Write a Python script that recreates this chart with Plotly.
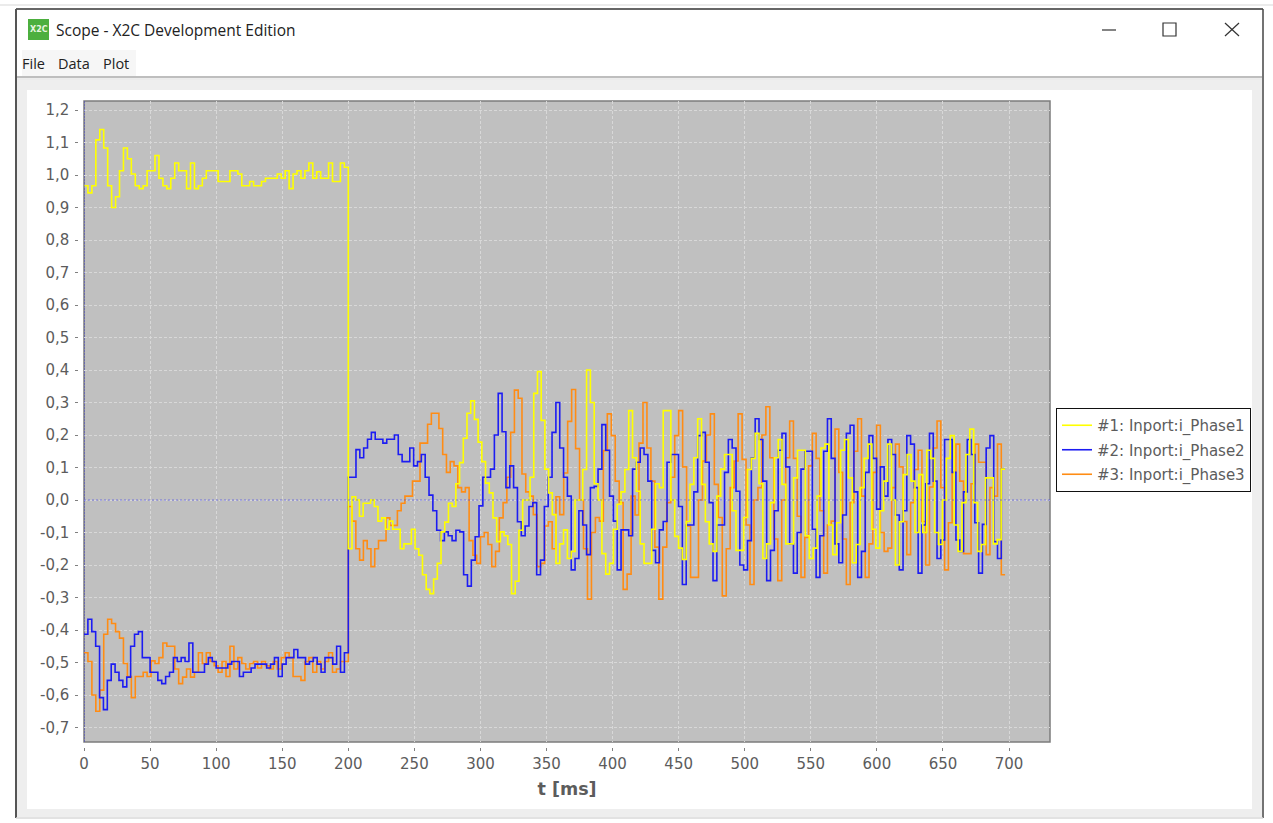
import plotly.graph_objects as go

W, H = 1273, 823

# Time spans (ms) of the four runs of samples
SPAN_EDGES = [0, 200, 360, 534, 697]

PHASE1_A = [.967,.945,.967,1.108,1.14,1.083,.967,.90,.933,1.013,1.083,1.05,1.003,.967,.958,.967,1.013,1.013,1.06,.99,.967,.958,.99,1.037,1.013,1.013,.958,1.037,.958,.967,.99,1.013,1.013,1.013,.98,.98,.98,1.013,1.013,1.003,.967,.967,.98,.967,.967,.98,.99,.99,.99,1.003,.99,1.013,.958,1.003,1.013,.99,1.013,1.037,.99,1.01,.99,.99,1.037,.98,.98,1.037,1.024]
PHASE1_B = [-.15,.01,0,-.05,-.01,-.01,0,-.02,-.065,-.055,-.09,-.065,-.09,-.09,-.15,-.135,-.135,-.09,-.15,-.17,-.23,-.275,-.288,-.243,-.195,-.098,-.068,-.01,-.02,.05,.115,.19,.267,.305,.248,.178,.118,.052,.022,-.055,-.128,-.098,-.11,-.137,-.288,-.25,-.093,0,0,.07,.328,.395,.245,.095,.022,-.045,-.195]
PHASE1_C = [-.135,-.092,-.18,-.158,0,0,.094,.40,.3,.05,0,-.165,-.228,-.195,-.09,-.013,.025,.094,.275,.13,.027,-.135,-.195,-.195,-.09,.05,.038,.275,.275,0,-.112,-.148,-.183,-.066,.048,.13,.25,.048,-.067,-.135,-.158,.012,.095,.14,.14,-.033,-.155,-.155,-.054,.094,.128,.205,.05,-.18,-.135,-.008,.13,.186,.048,-.135]
PHASE1_D = [-.135,.068,.153,.153,-.11,-.18,-.148,.012,.16,.172,-.077,-.168,-.07,.153,.186,.068,-.193,-.137,.038,.128,.172,-.09,-.148,-.033,.058,.172,0,-.2,-.067,.078,.14,.058,-.1,.078,-.1,.153,.128,-.1,-.137,0,.128,.198,-.077,-.158,-.008,.14,.218,-.008,-.158,-.137,.068,.068,-.135,-.122,.095]

PHASE2_A = [-.413,-.367,-.405,-.45,-.608,-.645,-.555,-.505,-.53,-.555,-.575,-.545,-.45,-.413,-.405,-.485,-.485,-.53,-.53,-.555,-.565,-.543,-.53,-.485,-.497,-.485,-.497,-.44,-.53,-.53,-.53,-.505,-.485,-.497,-.517,-.517,-.517,-.505,-.497,-.497,-.543,-.53,-.53,-.517,-.505,-.505,-.505,-.517,-.505,-.485,-.543,-.505,-.485,-.485,-.46,-.485,-.485,-.505,-.497,-.485,-.505,-.53,-.485,-.485,-.505,-.45,-.53,-.47]
PHASE2_B = [.07,.07,.155,.13,.16,.187,.208,.187,.187,.175,.187,.187,.2,.14,.118,.118,.16,.105,.118,.14,.07,.015,-.033,-.093,-.125,-.098,-.11,-.125,-.093,-.098,-.23,-.265,-.185,-.113,-.018,.07,.07,.095,.2,.328,.21,.038,.105,.038,-.067,-.11,-.08,-.02,-.008,-.23,-.185,-.02,.07,.208,.3]
PHASE2_C = [.16,.07,.012,-.215,-.18,-.033,-.077,-.168,.038,.042,.095,.232,.153,.012,-.065,-.215,-.092,-.092,-.11,.095,.116,.16,.14,.058,-.155,-.193,-.092,-.066,.116,.14,.14,-.02,-.26,-.077,-.077,.025,.198,.208,.116,-.008,-.248,-.077,-.077,.085,.186,.16,.027,-.2,-.215,-.125,.13,.25,.186,.058,-.248,-.155,-.033,.153,.205,.102]
PHASE2_D = [-.135,-.225,-.1,.095,.15,.15,-.09,-.238,-.11,.15,.25,.128,-.135,-.193,-.046,.205,.23,.025,-.238,-.158,.085,.198,.128,-.028,.102,.012,.186,.14,-.046,-.215,-.033,.198,.172,.038,-.225,-.077,.05,.205,.058,-.18,-.123,.186,.186,.085,-.123,-.158,.025,.186,.14,-.07,-.225,-.075,.16,.198,-.128,-.18,.095]

PHASE3_A = [-.47,-.497,-.6,-.65,-.585,-.413,-.367,-.38,-.405,-.425,-.503,-.543,-.608,-.543,-.543,-.53,-.543,-.495,-.503,-.485,-.44,-.45,-.45,-.52,-.565,-.545,-.52,-.545,-.53,-.47,-.503,-.47,-.497,-.51,-.53,-.497,-.543,-.45,-.52,-.485,-.503,-.52,-.503,-.497,-.517,-.497,-.51,-.52,-.497,-.52,-.485,-.47,-.485,-.543,-.543,-.555,-.497,-.485,-.53,-.497,-.52,-.497,-.47,-.53,-.52,-.497,-.497]
PHASE3_B = [-.02,-.065,-.15,-.185,-.125,-.15,-.205,-.15,-.125,-.125,-.055,-.078,-.078,-.033,-.01,.012,.012,.058,.058,.175,.175,.233,.267,.267,.22,.14,.085,.118,.105,.038,.025,.038,-.125,-.17,-.195,-.113,-.1,-.137,-.205,-.158,-.055,-.008,.07,.208,.338,.313,.08,.025,.012,-.045,-.205,-.195,-.08,-.067,-.15,.01]
PHASE3_C = [-.045,.083,.242,.34,.158,0,-.15,-.305,-.1,-.054,-.065,.152,.265,.198,.058,-.008,-.275,-.228,.012,-.046,.175,.3,.16,.058,-.145,-.305,-.145,-.008,.07,.198,.275,.102,-.08,-.238,-.238,0,.12,.2,.265,.048,-.054,-.295,-.15,.038,.12,.265,.125,-.077,-.26,0,.038,.2,.287,.13,-.12,-.248,0,.13]
PHASE3_D = [.243,.128,-.05,-.238,-.115,.105,.205,.128,-.033,-.225,-.077,-.065,.218,.085,-.12,-.26,-.008,.15,.25,.012,-.238,-.135,.085,.23,-.1,-.158,-.148,.038,.172,.102,-.066,-.168,-.008,.094,.153,-.066,-.2,.04,.16,.243,.038,-.215,-.07,.085,.172,.058,-.165,-.165,.05,.172,.116,.116,-.168,.038,.012,.172,-.23]

SERIES = [(PHASE1_A, PHASE1_B, PHASE1_C, PHASE1_D), (PHASE2_A, PHASE2_B, PHASE2_C, PHASE2_D), (PHASE3_A, PHASE3_B, PHASE3_C, PHASE3_D)]
SERIES_NAMES = ["#1: Inport:i_Phase1", "#2: Inport:i_Phase2", "#3: Inport:i_Phase3"]
SERIES_COLORS = ["#ffff00", "#1c1cf2", "#ff8c14"]
X_TICKS = list(range(0, 701, 50))
Y_VALS = [-.7,-.6,-.5,-.4,-.3,-.2,-.1,0,.1,.2,.3,.4,.5,.6,.7,.8,.9,1.0,1.1,1.2]
Y_LABELS = ["-0,7","-0,6","-0,5","-0,4","-0,3","-0,2","-0,1","0,0","0,1","0,2","0,3","0,4","0,5","0,6","0,7","0,8","0,9","1,0","1,1","1,2"]

def X(p): return p / W
def Y(p): return 1 - p / H

def rect(x0, y0, x1, y1, fill=None, line=None, lw=1):
    return dict(type="rect", xref="paper", yref="paper", layer="below", x0=X(x0), x1=X(x1), y0=Y(y0), y1=Y(y1),
                fillcolor=fill or "rgba(0,0,0,0)", line=dict(color=line or "rgba(0,0,0,0)", width=lw if line else 0))

def seg(x0, y0, x1, y1, color, lw=1):
    return dict(type="line", xref="paper", yref="paper", layer="below", x0=X(x0), x1=X(x1), y0=Y(y0), y1=Y(y1),
                line=dict(color=color, width=lw))

shapes = [
    seg(0, 5, 1273, 5, "#e4e4e4", 1.5),
    rect(136, 50, 22, 76, "#f6f6f6"),
    rect(17, 80, 1262, 817, "#eeeeee"),
    rect(27, 90, 1252, 809, "#ffffff"),
    seg(17, 77, 1262, 77, "#a8a8a8", 1.5),
    seg(17, 79, 1262, 79, "#d8d8d8", 1),
    seg(16, 9, 1263, 9, "#333333", 1.5),
    seg(16, 9, 16, 818, "#555555", 2),
    seg(1263, 9, 1263, 818, "#444444", 1.5),
    seg(16, 818, 1263, 818, "#d8d8d8", 1.5),
    rect(84, 101, 1050, 742, "#c0c0c0", "#7c7c7c", 1.5),
    rect(28, 19, 49, 40, "#4caf3e"),
    seg(1102, 30, 1116, 30, "#333333", 1.2),
    rect(1163, 23, 1176, 36, None, "#333333", 1.2),
    seg(1225, 23, 1239, 36, "#333333", 1.2),
    seg(1225, 36, 1239, 23, "#333333", 1.2),
    dict(type="line", xref="x", yref="paper", x0=0, x1=0, y0=Y(742), y1=Y(101), layer="above",
         line=dict(color="rgba(40,40,230,.7)", width=1, dash="2px,1px")),
    dict(type="line", xref="paper", yref="y", x0=X(84), x1=X(1050), y0=0, y1=0, layer="above",
         line=dict(color="rgba(60,60,235,.6)", width=1, dash="2px,2px")),
]

def label(text, px, py, size, color="#222222", family="Open Sans", anchor="left", bold=False):
    return dict(text=f"<b>{text}</b>" if bold else text, x=X(px), y=Y(py), xref="paper", yref="paper",
                xanchor=anchor, yanchor="middle", showarrow=False, font=dict(size=size, color=color, family=family))

annotations = [
    label("Scope - X2C Development Edition", 54, 30, 15.5),
    label("File", 20, 63, 14.5), label("Data", 56, 63, 14.5), label("Plot", 101, 63, 14.5),
    label("X2C", 38.5, 29.5, 8, "#e8f5e0", "DejaVu Sans", "center", True),
]

fig = go.Figure()
for parts, name, color, z in zip(SERIES, SERIES_NAMES, SERIES_COLORS, (3, 2, 1)):
    t, v = [], []
    for k, part in enumerate(parts):
        start, end = SPAN_EDGES[k], SPAN_EDGES[k + 1]
        t += [start + i * (end - start) / len(part) for i in range(len(part))]
        v += part
    t.append(SPAN_EDGES[-1])
    v.append(v[-1])
    fig.add_trace(go.Scatter(x=t, y=v, mode="lines", name=name, legendgroup=name, zorder=z,
                             line=dict(color=color, width=1.6, shape="hv")))

fig.update_layout(
    width=W, height=H, autosize=False, margin=dict(l=0, r=0, t=0, b=0, autoexpand=False),
    paper_bgcolor="#ffffff", plot_bgcolor="rgba(0,0,0,0)", shapes=shapes, annotations=annotations,
    font=dict(family="DejaVu Sans", size=15, color="#5c5c5c"),
    legend=dict(x=X(1056), y=Y(408), xanchor="left", yanchor="top", bgcolor="#ffffff", bordercolor="#111111", borderwidth=1,
                tracegroupgap=2, font=dict(size=15, color="#5c5c5c", family="DejaVu Sans")),
    xaxis=dict(domain=[X(84), X(1050)], range=[0, 731], anchor="free", position=Y(747.5),
               tickmode="array", tickvals=X_TICKS, ticks="outside", ticklen=3, tickcolor="#808080", showline=True,
               linecolor="#808080", linewidth=1.5, showgrid=True, griddash="3px,2px", gridcolor="#d8d8d8", gridwidth=1, zeroline=False,
               title=dict(text="<b>t [ms]</b>", standoff=9, font=dict(size=17.5, color="#5c5c5c", family="DejaVu Sans"))),
    yaxis=dict(domain=[Y(742), Y(101)], range=[-.7446, 1.2277], anchor="free", position=X(79),
               tickmode="array", tickvals=Y_VALS, ticktext=Y_LABELS, ticks="outside", ticklen=3, tickcolor="#808080", showline=True,
               ticklabelstandoff=3,
               linecolor="#909090", linewidth=1.5, showgrid=True, griddash="3px,2px", gridcolor="#d8d8d8", gridwidth=1, zeroline=False),
)
fig.write_html("out.html", config={"displayModeBar": False},
               post_script="document.body.style.margin='0';document.body.style.overflow='hidden';")
